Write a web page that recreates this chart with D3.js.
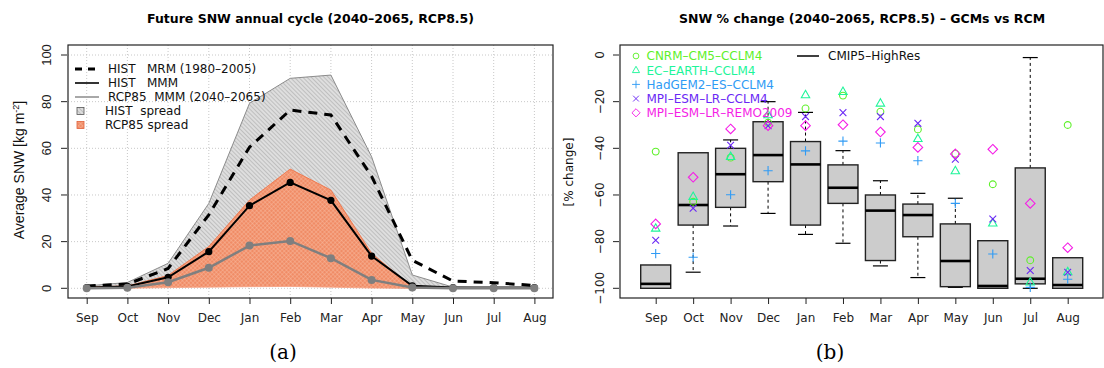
<!DOCTYPE html>
<html>
<head>
<meta charset="utf-8">
<script src="https://cdn.jsdelivr.net/npm/d3@7"></script>
<style>
  body { margin: 0; background: #fff; }
  svg { display: block; font-family: "DejaVu Sans", sans-serif; }
  text { white-space: pre; }
</style>
</head>
<body>
<div class="canvas"></div>
<script>
"use strict";

// ---- data, panel (a): annual cycle ----
const months = ["Sep", "Oct", "Nov", "Dec", "Jan", "Feb", "Mar", "Apr", "May", "Jun", "Jul", "Aug"];
const histMrm = [1, 1.8, 8.5, 31.5, 60.5, 76.4, 74.3, 48, 12, 3.1, 2.4, 1.2];
const histMmm = [0.3, 0.8, 4.7, 15.7, 35.4, 45.4, 37.7, 13.8, 1.1, 0.3, 0.3, 0.3];
const rcpMmm = [0, 0.2, 2.6, 8.8, 18.3, 20.3, 12.9, 3.6, 0.3, 0, 0, 0];
const histSpreadHi = [1, 2.5, 10.7, 36.4, 79.3, 90, 91.4, 56.4, 5.7, 0.5, 0.2, 0.2];
const histSpreadLo = [0, 0.3, 1, 1.5, 2.5, 2.5, 3, 0.5, 0, 0, 0, 0];
const rcpSpreadHi = [0.5, 1, 5.5, 17.9, 37.8, 51.1, 42.1, 15, 0.5, 0, 0, 0];
const rcpSpreadLo = [0, 0, 0.3, 0.5, 0.7, 0.8, 0.5, 0.1, 0, 0, 0, 0];
const yTicksA = [0, 20, 40, 60, 80, 100];

// ---- data, panel (b): % change, CMIP5-HighRes boxes + RCM runs ----
const boxLo = [-100, -93.1, -73.3, -67.9, -76.9, -80.7, -90.4, -95.4, -99.6, -100, -100, -100];
const boxQ1 = [-100, -72.9, -65.3, -54.3, -72.9, -63.6, -88.1, -77.9, -99.3, -100, -98.1, -100];
const boxMed = [-98.1, -64.3, -51.1, -42.9, -46.9, -56.9, -66.7, -68.6, -88.3, -99, -95.9, -98.6];
const boxQ3 = [-90, -41.9, -40, -28.6, -37.1, -47.1, -60, -63.9, -72.4, -79.6, -48.4, -86.9];
const boxHi = [-90, -41.9, -36.4, -20, -24.6, -41, -53.9, -59.3, -61.4, -79.6, -1.1, -86.9];

const cnrm = [-41.4, -62.9, -44, -29, -22.9, -17.4, -24.3, -31.9, -42.3, -55.4, -88, -30];
const ecEarth = [-74.3, -60.7, -43.6, -25.7, -17.1, -15.7, -20.7, -35.9, -49.7, -72.1, -97.4, -93];
const hadgem = [-85.1, -86.7, -59.9, -49.6, -41.1, -36.9, -37.7, -45.3, -63.6, -85.3, -99.6, -96.1];
const mpiCclm = [-79.4, -65.7, -38.7, -30.3, -26.4, -24.7, -26.4, -29.3, -44.7, -70.3, -92.4, -93.1];
const mpiRemo = [-72.4, -52.4, -31.7, -30.3, -30.3, -29.9, -33, -39.6, -42.4, -40.4, -63.6, -82.6];
const yTicksB = [0, -20, -40, -60, -80, -100];

const runs = [
  { name: "CNRM\u2013CM5\u2013CCLM4", values: cnrm, color: "#5ef02a", shape: "circle" },
  { name: "EC\u2013EARTH\u2013CCLM4", values: ecEarth, color: "#1ef59a", shape: "triangle" },
  { name: "HadGEM2\u2013ES\u2013CCLM4", values: hadgem, color: "#2f9bf5", shape: "plus" },
  { name: "MPI\u2013ESM\u2013LR\u2013CCLM4", values: mpiCclm, color: "#6a28f5", shape: "cross" },
  { name: "MPI\u2013ESM\u2013LR\u2013REMO2009", values: mpiRemo, color: "#f51ee6", shape: "diamond" }
];

const W = 1104, H = 368;
const svg = d3.select(".canvas").append("svg").attr("width", W).attr("height", H);

// patterns for the spread polygons
const defs = svg.append("defs");
const histPat = defs.append("pattern").attr("id", "histHatch")
  .attr("width", 3).attr("height", 3).attr("patternUnits", "userSpaceOnUse")
  .attr("patternTransform", "rotate(-45)");
histPat.append("rect").attr("width", 3).attr("height", 3).attr("fill", "#dedede");
histPat.append("line").attr("x1", 0).attr("y1", 0).attr("x2", 0).attr("y2", 3)
  .attr("stroke", "#a0a0a0").attr("stroke-width", 1);

const rcpPat = defs.append("pattern").attr("id", "rcpHatch")
  .attr("width", 3).attr("height", 3).attr("patternUnits", "userSpaceOnUse")
  .attr("patternTransform", "rotate(45)");
rcpPat.append("rect").attr("width", 3).attr("height", 3).attr("fill", "#f08c66");
rcpPat.append("line").attr("x1", 0).attr("y1", 0).attr("x2", 0).attr("y2", 3)
  .attr("stroke", "#fac0a8").attr("stroke-width", 0.8);
rcpPat.append("line").attr("x1", 0).attr("y1", 0).attr("x2", 3).attr("y2", 0)
  .attr("stroke", "#fac0a8").attr("stroke-width", 0.8);

function styleAxis(a, family) {
  a.select(".domain").remove();
  a.selectAll("line").attr("stroke", "#222");
  a.selectAll("text").attr("font-size", 12).attr("fill", "#222").attr("font-family", family);
}

// ================= panel (a) =================
const fa = { left: 68, right: 553, top: 45, bottom: 298 };
const xA = d3.scalePoint().domain(months).range([86.7, 534.4]);
const yA = d3.scaleLinear().domain([0, 100]).range([288.3, 55]);
const ga = svg.append("g");

// grid
ga.append("g").selectAll("line").data(months).join("line")
  .attr("x1", d => xA(d)).attr("x2", d => xA(d))
  .attr("y1", fa.top).attr("y2", fa.bottom)
  .attr("stroke", "#c8c8c8").attr("stroke-dasharray", "1,2");
ga.append("g").selectAll("line").data(yTicksA).join("line")
  .attr("x1", fa.left).attr("x2", fa.right)
  .attr("y1", d => yA(d)).attr("y2", d => yA(d))
  .attr("stroke", "#c8c8c8").attr("stroke-dasharray", "1,2");

const band = (hi, lo) => d3.area()
  .x((d, i) => xA(months[i])).y0((d, i) => yA(lo[i])).y1((d, i) => yA(hi[i]))(hi);
const lineOf = vals => d3.line().x((d, i) => xA(months[i])).y(d => yA(d))(vals);

ga.append("path").attr("d", band(histSpreadHi, histSpreadLo))
  .attr("fill", "url(#histHatch)").attr("stroke", "none");
ga.append("path").attr("d", lineOf(histSpreadHi)).attr("fill", "none")
  .attr("stroke", "#8c8c8c").attr("stroke-width", 1);
ga.append("path").attr("d", lineOf(histSpreadLo)).attr("fill", "none")
  .attr("stroke", "#a0a0a0").attr("stroke-width", 0.8);

ga.append("path").attr("d", band(rcpSpreadHi, rcpSpreadLo))
  .attr("fill", "url(#rcpHatch)").attr("stroke", "none");
ga.append("path").attr("d", lineOf(rcpSpreadHi)).attr("fill", "none")
  .attr("stroke", "#f07a50").attr("stroke-width", 1);
ga.append("path").attr("d", lineOf(rcpSpreadLo)).attr("fill", "none")
  .attr("stroke", "#f6a080").attr("stroke-width", 0.8);

ga.append("path").attr("d", lineOf(histMrm)).attr("fill", "none")
  .attr("stroke", "#000").attr("stroke-width", 3).attr("stroke-dasharray", "9,7");

ga.append("path").attr("d", lineOf(histMmm)).attr("fill", "none")
  .attr("stroke", "#000").attr("stroke-width", 2);
ga.append("g").selectAll("circle").data(histMmm).join("circle")
  .attr("cx", (d, i) => xA(months[i])).attr("cy", d => yA(d)).attr("r", 3.6)
  .attr("fill", "#000");

ga.append("path").attr("d", lineOf(rcpMmm)).attr("fill", "none")
  .attr("stroke", "#7f7f7f").attr("stroke-width", 2.5);
ga.append("g").selectAll("circle").data(rcpMmm).join("circle")
  .attr("cx", (d, i) => xA(months[i])).attr("cy", d => yA(d)).attr("r", 4)
  .attr("fill", "#7f7f7f");

// frame + axes
ga.append("rect").attr("x", fa.left).attr("y", fa.top)
  .attr("width", fa.right - fa.left).attr("height", fa.bottom - fa.top)
  .attr("fill", "none").attr("stroke", "#222").attr("stroke-width", 1.2);

const axA = ga.append("g").attr("transform", `translate(0,${fa.bottom})`)
  .call(d3.axisBottom(xA).tickSize(6).tickPadding(9));
styleAxis(axA, "DejaVu Sans, sans-serif");

const ayA = ga.append("g").attr("transform", `translate(${fa.left - 1},0)`)
  .call(d3.axisLeft(yA).tickValues(yTicksA).tickSize(6));
styleAxis(ayA, "Liberation Sans, Arial, sans-serif");
ayA.selectAll(".tick").attr("transform", null);
ayA.selectAll(".tick line").attr("y1", d => yA(d)).attr("y2", d => yA(d));
ayA.selectAll("text").attr("font-size", 13).attr("text-anchor", "middle")
  .attr("x", 0).attr("y", d => yA(d)).attr("dy", "0.35em")
  .attr("transform", d => `translate(-21,0) rotate(-90,0,${yA(d)})`);

ga.append("text").attr("transform", "translate(24,170) rotate(-90)")
  .attr("text-anchor", "middle").attr("font-size", 14).attr("fill", "#111")
  .attr("font-family", "Liberation Sans, Arial, sans-serif")
  .text("Average SNW [kg m")
  .call(t => t.append("tspan").attr("font-size", 9).attr("dy", -5).text("-2"))
  .call(t => t.append("tspan").attr("dy", 5).text("]"));

svg.append("text").attr("x", 310.5).attr("y", 23).attr("text-anchor", "middle")
  .attr("font-size", 12.5).attr("font-weight", "bold").text("Future SNW annual cycle (2040\u20132065, RCP8.5)");
svg.append("text").attr("x", 283).attr("y", 359).attr("text-anchor", "middle")
  .attr("font-size", 20).attr("font-family", "DejaVu Serif, serif").text("(a)");

// legend (a)
const legA = [
  { label: "HIST   MRM (1980\u20132005)", kind: "line", color: "#000", w: 3, dash: "7,6" },
  { label: "HIST   MMM", kind: "line", color: "#333", w: 2, dash: null },
  { label: "RCP85  MMM (2040\u20132065)", kind: "line", color: "#a8a8a8", w: 2, dash: null },
  { label: "HIST  spread", kind: "box", fill: "url(#histHatch)", stroke: "#555" },
  { label: "RCP85 spread", kind: "box", fill: "url(#rcpHatch)", stroke: "#e0603a" }
];
const lga = ga.append("g");
legA.forEach((d, i) => {
  const y = 69 + i * 14;
  if (d.kind === "line") {
    lga.append("line").attr("x1", 75).attr("x2", 99).attr("y1", y).attr("y2", y)
      .attr("stroke", d.color).attr("stroke-width", d.w)
      .attr("stroke-dasharray", d.dash);
    lga.append("text").attr("x", 108).attr("y", y).attr("dy", "0.36em")
      .attr("font-size", 12).attr("fill", "#111").text(d.label);
  } else {
    lga.append("rect").attr("x", 77).attr("y", y - 3.5).attr("width", 7).attr("height", 7)
      .attr("fill", d.fill).attr("stroke", d.stroke).attr("stroke-width", 0.8);
    lga.append("text").attr("x", 105).attr("y", y).attr("dy", "0.36em")
      .attr("font-size", 12).attr("fill", "#111").text(d.label);
  }
});

// ================= panel (b) =================
const fb = { left: 620, right: 1103, top: 45, bottom: 298 };
const xB = d3.scalePoint().domain(months).range([655.7, 1067.7]);
const yB = d3.scaleLinear().domain([-100, 0]).range([288.3, 55]);
const gb = svg.append("g");
const boxW = 30, capW = 15;

const boxes = months.map((m, i) => ({ m, lo: boxLo[i], q1: boxQ1[i], med: boxMed[i], q3: boxQ3[i], hi: boxHi[i] }));
const bx = gb.append("g").selectAll("g").data(boxes).join("g");
bx.append("line").attr("x1", d => xB(d.m)).attr("x2", d => xB(d.m))
  .attr("y1", d => yB(d.q3)).attr("y2", d => yB(d.hi))
  .attr("stroke", "#000").attr("stroke-dasharray", "3,3");
bx.append("line").attr("x1", d => xB(d.m)).attr("x2", d => xB(d.m))
  .attr("y1", d => yB(d.q1)).attr("y2", d => yB(d.lo))
  .attr("stroke", "#000").attr("stroke-dasharray", "3,3");
bx.filter(d => d.hi > d.q3).append("line")
  .attr("x1", d => xB(d.m) - capW / 2).attr("x2", d => xB(d.m) + capW / 2)
  .attr("y1", d => yB(d.hi)).attr("y2", d => yB(d.hi)).attr("stroke", "#000").attr("stroke-width", 1.2);
bx.filter(d => d.lo < d.q1).append("line")
  .attr("x1", d => xB(d.m) - capW / 2).attr("x2", d => xB(d.m) + capW / 2)
  .attr("y1", d => yB(d.lo)).attr("y2", d => yB(d.lo)).attr("stroke", "#000").attr("stroke-width", 1.2);
bx.append("rect").attr("x", d => xB(d.m) - boxW / 2).attr("width", boxW)
  .attr("y", d => yB(d.q3)).attr("height", d => yB(d.q1) - yB(d.q3))
  .attr("fill", "#cccccc").attr("stroke", "#222").attr("stroke-width", 1.4);
bx.append("line").attr("x1", d => xB(d.m) - boxW / 2).attr("x2", d => xB(d.m) + boxW / 2)
  .attr("y1", d => yB(d.med)).attr("y2", d => yB(d.med))
  .attr("stroke", "#000").attr("stroke-width", 2.6);

function marker(sel, shape, color) {
  sel.attr("fill", "none").attr("stroke", color).attr("stroke-width", 1.1);
  if (shape === "circle") return sel.append("circle").attr("r", 3.4);
  if (shape === "triangle") return sel.append("path").attr("d", "M0,-4.6L4.2,2.8L-4.2,2.8Z");
  if (shape === "plus") return sel.append("path").attr("d", "M-4.6,0H4.6M0,-4.6V4.6");
  if (shape === "cross") return sel.append("path").attr("d", "M-3.4,-3.4L3.4,3.4M-3.4,3.4L3.4,-3.4");
  return sel.append("path").attr("d", "M0,-4.8L4.8,0L0,4.8L-4.8,0Z");
}

runs.forEach(r => {
  gb.append("g").selectAll("g").data(r.values).join("g")
    .attr("transform", (d, i) => `translate(${xB(months[i])},${yB(d)})`)
    .each(function () { marker(d3.select(this), r.shape, r.color); });
});

gb.append("rect").attr("x", fb.left).attr("y", fb.top)
  .attr("width", fb.right - fb.left).attr("height", fb.bottom - fb.top)
  .attr("fill", "none").attr("stroke", "#222").attr("stroke-width", 1.2);

const axB = gb.append("g").attr("transform", `translate(0,${fb.bottom})`)
  .call(d3.axisBottom(xB).tickSize(6).tickPadding(9));
styleAxis(axB, "DejaVu Sans, sans-serif");

const ayB = gb.append("g").attr("transform", `translate(${fb.left - 1},0)`)
  .call(d3.axisLeft(yB).tickValues(yTicksB).tickSize(6));
styleAxis(ayB, "DejaVu Sans, sans-serif");
ayB.selectAll(".tick").attr("transform", null);
ayB.selectAll(".tick line").attr("y1", d => yB(d)).attr("y2", d => yB(d));
ayB.selectAll("text").attr("text-anchor", "middle").attr("x", 0).attr("y", d => yB(d))
  .attr("dy", "0.35em")
  .attr("transform", d => `translate(-19,0) rotate(-90,0,${yB(d)})`)
  .text(d => d === 0 ? "0" : "\u2212" + Math.abs(d));

svg.append("text").attr("transform", "translate(573,172) rotate(-90)")
  .attr("text-anchor", "middle").attr("font-size", 12).attr("fill", "#111").text("[% change]");

svg.append("text").attr("x", 862).attr("y", 23).attr("text-anchor", "middle")
  .attr("font-size", 12.5).attr("font-weight", "bold")
  .text("SNW % change (2040\u20132065, RCP8.5) \u2013 GCMs vs RCM");
svg.append("text").attr("x", 830).attr("y", 359).attr("text-anchor", "middle")
  .attr("font-size", 20).attr("font-family", "DejaVu Serif, serif").text("(b)");

// legend (b)
const lgb = gb.append("g");
runs.forEach((r, i) => {
  const y = 56 + i * 14.2;
  marker(lgb.append("g").attr("transform", `translate(636,${y}) scale(0.85)`), r.shape, r.color);
  lgb.append("text").attr("x", 646.5).attr("y", y).attr("dy", "0.36em")
    .attr("font-size", 12).attr("fill", r.color).text(r.name);
});
lgb.append("line").attr("x1", 797).attr("x2", 819).attr("y1", 56).attr("y2", 56)
  .attr("stroke", "#000").attr("stroke-width", 1.5);
lgb.append("text").attr("x", 828).attr("y", 56).attr("dy", "0.36em")
  .attr("font-size", 12).attr("fill", "#111").text("CMIP5\u2013HighRes");
</script>
</body>
</html>
